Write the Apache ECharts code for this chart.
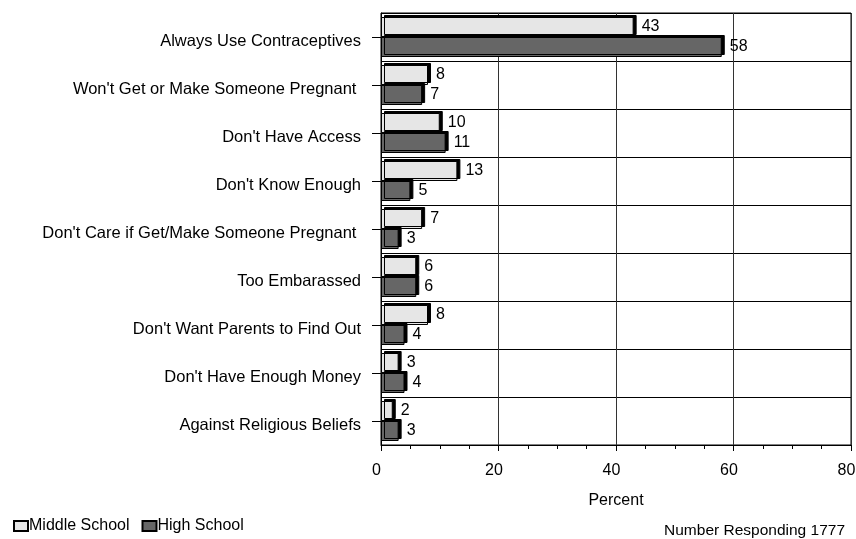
<!DOCTYPE html>
<html>
<head>
<meta charset="utf-8">
<script src="https://cdn.jsdelivr.net/npm/echarts@6/dist/echarts.min.js"></script>
<style>html,body{margin:0;padding:0;background:#fff;}#c{width:856px;height:539px;}</style>
</head>
<body>
<div id="c"></div>
<script>
var categories = [
  "Always Use Contraceptives",
  "Won't Get or Make Someone Pregnant ",
  "Don't Have Access",
  "Don't Know Enough",
  "Don't Care if Get/Make Someone Pregnant ",
  "Too Embarassed",
  "Don't Want Parents to Find Out",
  "Don't Have Enough Money",
  "Against Religious Beliefs"
];
var middleSchool = [43, 8, 10, 13, 7, 6, 8, 3, 2];
var highSchool = [58, 7, 11, 5, 3, 6, 4, 4, 3];
var seriesNames = ["Middle School", "High School"];
var footnote = "Number Responding 1777";
var axisTitle = "Percent";

var font = "Liberation Sans, Arial, sans-serif";
var chart = echarts.init(document.getElementById('c'));
function barSeries(name, data, color) {
  return {
    name: name, type: 'bar', data: data, barWidth: 20, barGap: '0%',
    itemStyle: { color: color, borderColor: '#000', borderWidth: 1,
      shadowColor: '#000', shadowOffsetX: 3, shadowOffsetY: -2, shadowBlur: 0 },
    label: { show: true, position: 'right', distance: 8, color: '#000',
      fontFamily: font, fontSize: 16 }
  };
}
chart.setOption({
  animation: false,
  textStyle: { fontFamily: font },
  grid: { left: 381, right: 5, top: 13, bottom: 94, show: true, borderColor: '#000', borderWidth: 1,
    outerBoundsMode: 'none', containLabel: false },
  legend: {
    left: 8, top: 513, itemWidth: 14, itemHeight: 10, itemGap: 12,
    icon: 'rect',
    textStyle: { fontSize: 16, color: '#000', fontFamily: font, padding: [0, 0, 0, -4] },
    data: seriesNames
  },
  xAxis: {
    type: 'value', min: 0, max: 80, interval: 20,
    name: axisTitle, nameLocation: 'middle', nameGap: 48,
    nameTextStyle: { fontSize: 16, color: '#000', fontFamily: font },
    axisLine: { show: true, lineStyle: { color: '#000', width: 1 } },
    axisTick: { show: true, length: 6, lineStyle: { color: '#000' } },
    minorTick: { show: true, splitNumber: 4, length: 4, lineStyle: { color: '#000' } },
    axisLabel: {
      fontSize: 16, color: '#000', margin: 18, fontFamily: font,
      formatter: function (v) { return '{t|' + v + '}'; },
      rich: { t: { fontSize: 16, fontFamily: font, color: '#000', padding: [0, 9, 0, 0] } }
    },
    splitLine: { show: true, lineStyle: { color: '#333', width: 1 } }
  },
  yAxis: {
    type: 'category', data: categories, inverse: true,
    axisLine: { show: true, lineStyle: { color: '#000' } },
    axisTick: { show: true, alignWithLabel: true, length: 9, lineStyle: { color: '#000' } },
    axisLabel: {
      color: '#000', margin: 20, fontFamily: font, fontSize: 16.5,
      formatter: function (v) { return '{p|' + v + '}'; },
      rich: { p: { fontSize: 16.5, fontFamily: font, color: '#000', padding: [8, 0, 0, 0] } }
    },
    splitLine: { show: true, lineStyle: { color: '#000', width: 1 } }
  },
  graphic: [{
    type: 'text', right: 11, top: 523,
    style: { text: footnote, fontSize: 15.5, fill: '#000', fontFamily: font }
  }],
  series: [
    barSeries(seriesNames[0], middleSchool, '#e6e6e6'),
    barSeries(seriesNames[1], highSchool, '#666666')
  ]
});
</script>
</body>
</html>
